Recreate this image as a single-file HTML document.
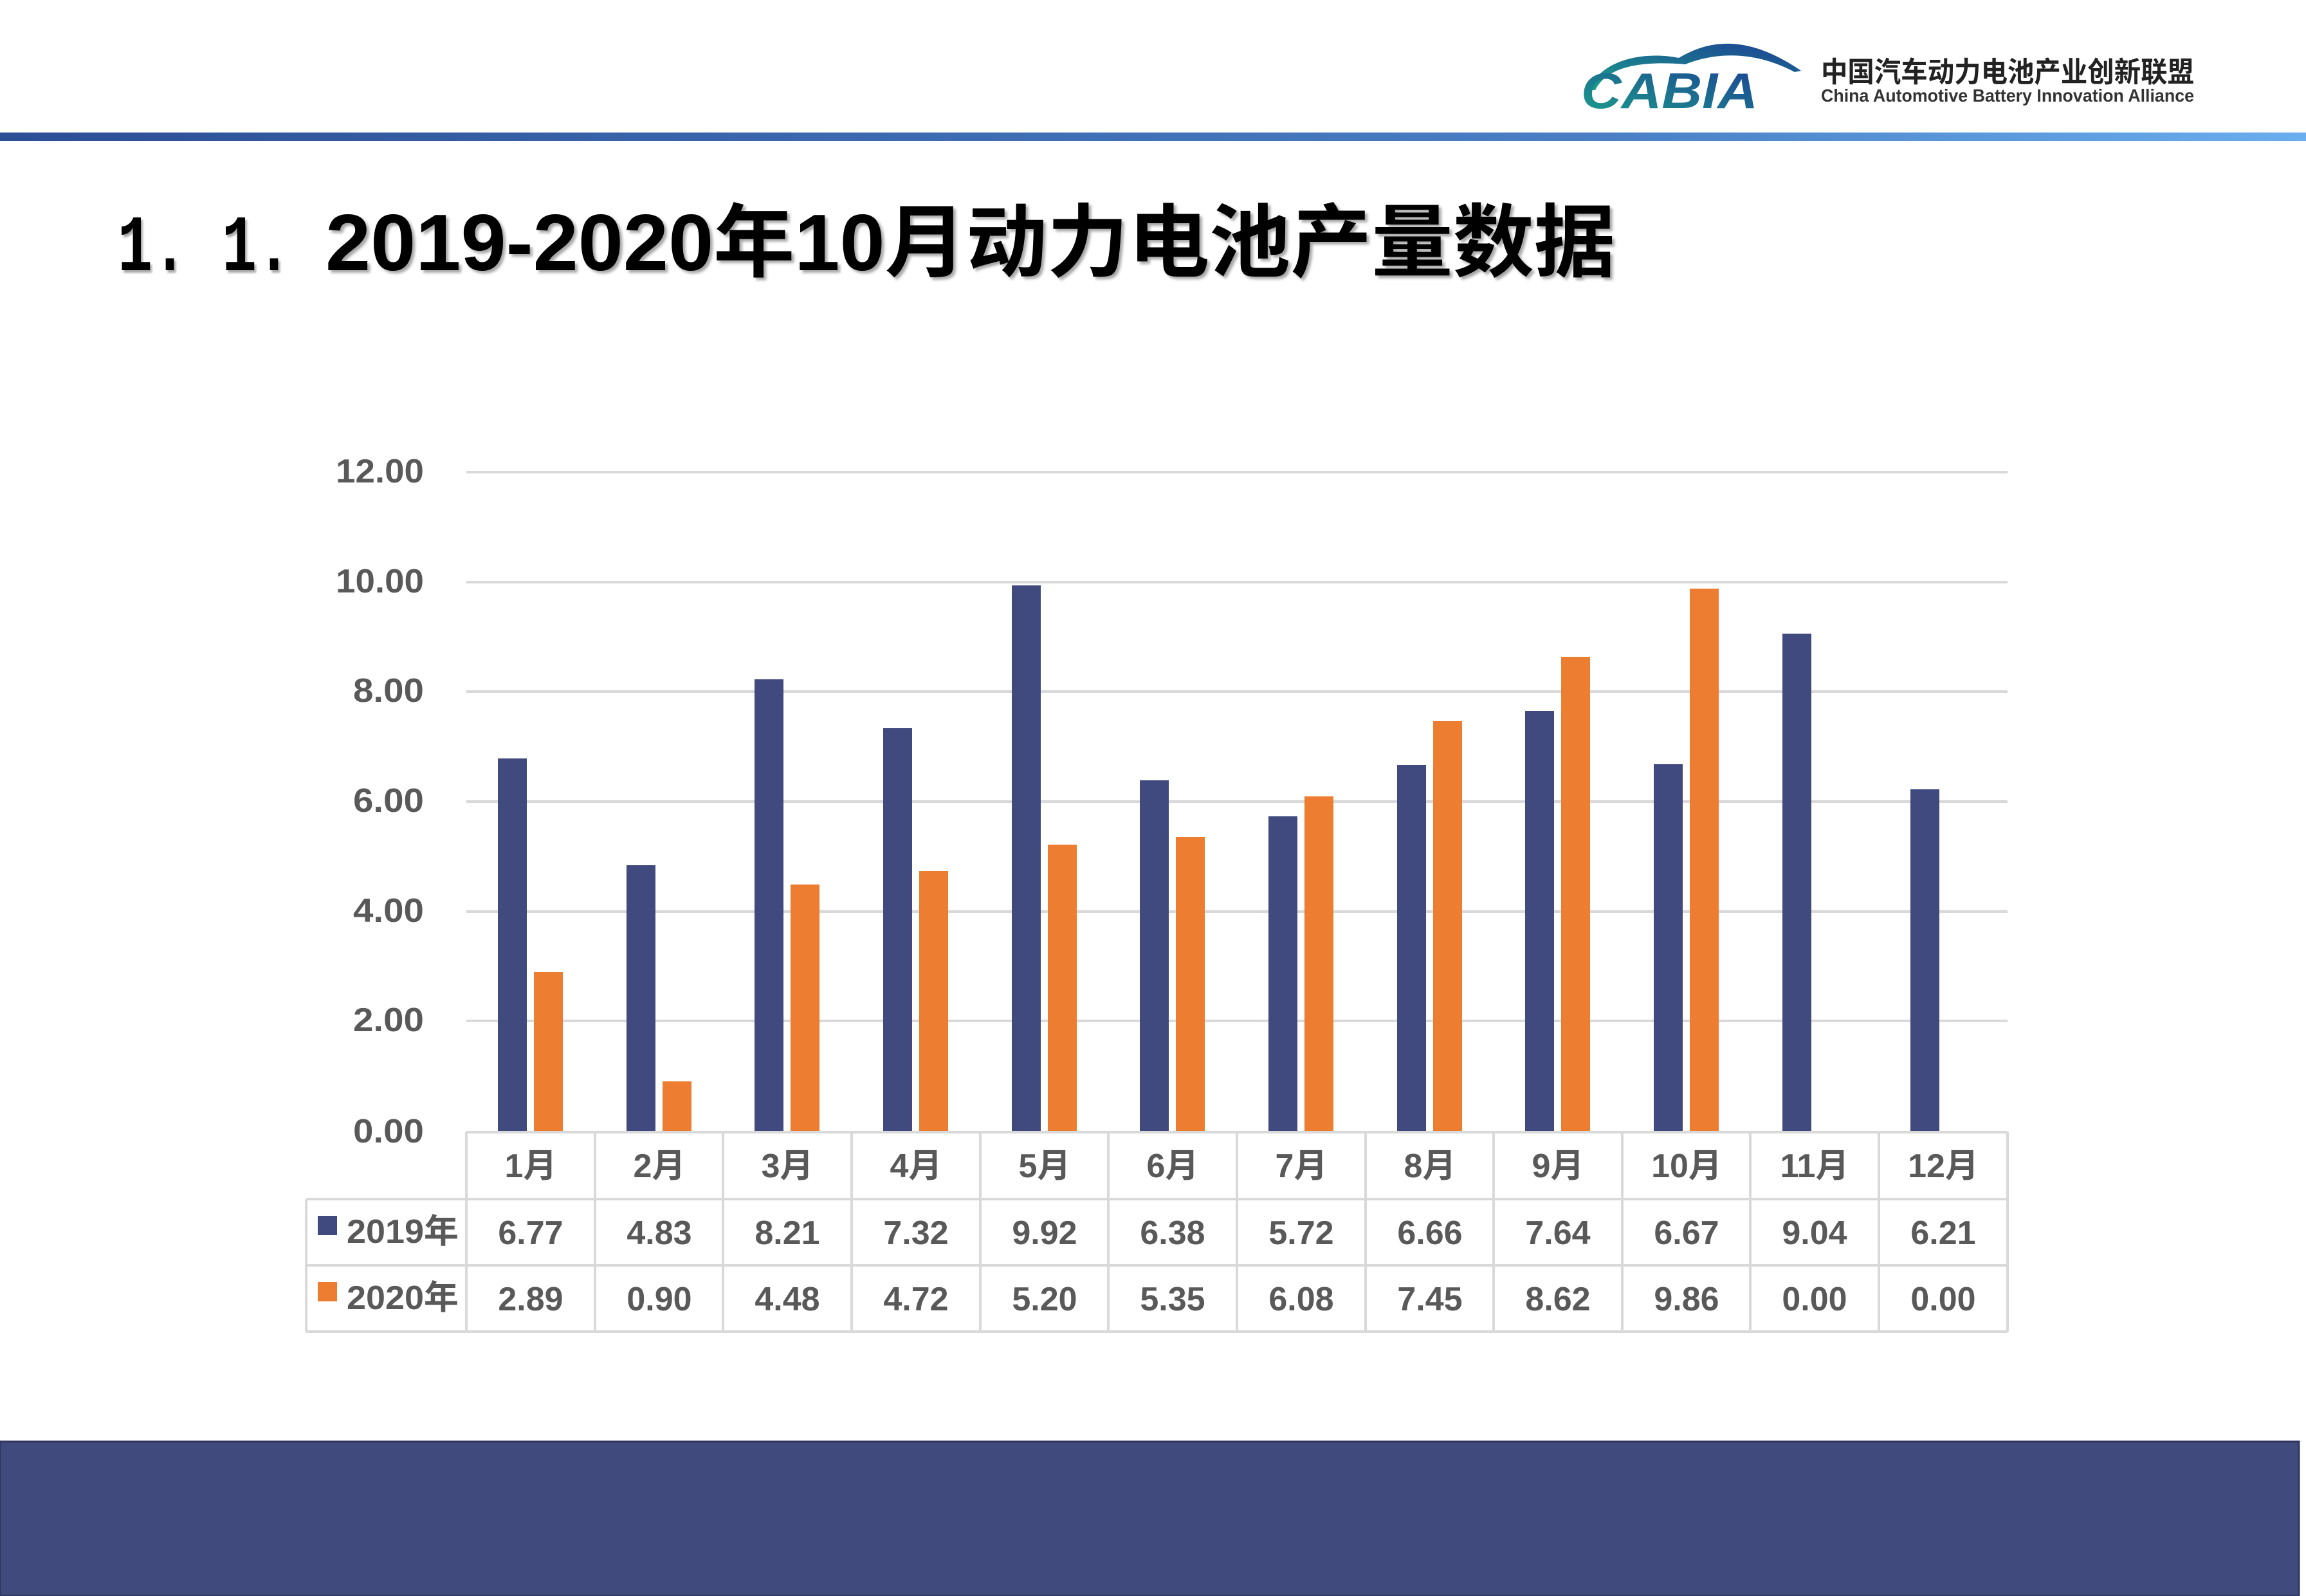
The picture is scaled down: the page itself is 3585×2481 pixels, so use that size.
<!DOCTYPE html>
<html><head><meta charset="utf-8"><style>
html,body{margin:0;padding:0;background:#fff;}
svg{display:block;}
</style></head><body>
<svg width="3585" height="2481" viewBox="0 0 3585 2481" xmlns="http://www.w3.org/2000/svg" font-family="'Liberation Sans','Noto Sans CJK SC',sans-serif">
<defs>
<linearGradient id="hb" x1="0" x2="1" y1="0" y2="0">
<stop offset="0" stop-color="#2c4f96"/><stop offset="0.7" stop-color="#4a7fc6"/><stop offset="1" stop-color="#6aaeee"/>
</linearGradient>
<linearGradient id="lg" x1="0" x2="1" y1="1" y2="0">
<stop offset="0" stop-color="#1aa08a"/><stop offset="1" stop-color="#1d3f95"/>
</linearGradient>
</defs>
<rect x="0" y="0" width="3585" height="2481" fill="#fff"/>
<!-- header line -->
<rect x="0" y="206" width="3585" height="13" fill="url(#hb)"/>
<!-- logo -->
<path d="M2470 140 C2490 90 2560 80 2610 90 C2660 60 2720 55 2800 110 L2790 112 C2730 80 2670 80 2620 100 C2560 95 2500 100 2480 140 Z" fill="url(#lg)"/>
<text x="2458" y="168" font-size="78" font-weight="bold" font-style="italic" fill="url(#lg)" textLength="275" lengthAdjust="spacingAndGlyphs">CABIA</text>
<text x="2831" y="127" font-size="44" font-weight="bold" fill="#222" textLength="580" lengthAdjust="spacingAndGlyphs">中国汽车动力电池产业创新联盟</text>
<text x="2831" y="158" font-size="28" font-weight="bold" fill="#333" textLength="580" lengthAdjust="spacingAndGlyphs">China Automotive Battery Innovation Alliance</text>
<!-- title -->
<g font-weight="bold" fill="#000" style="text-shadow:4px 4px 4px rgba(0,0,0,0.35)">
<text x="183" y="420" font-size="124" font-family="'Liberation Mono','Noto Sans CJK SC',monospace" textLength="270" lengthAdjust="spacingAndGlyphs">1. 1.</text>
<text x="506" y="420" font-size="124" font-family="'Liberation Sans','Noto Sans CJK SC',sans-serif" textLength="2005" lengthAdjust="spacingAndGlyphs">2019-2020年10月动力电池产量数据</text>
</g>
<!-- gridlines -->
<g stroke="#d9d9d9" stroke-width="4">
<line x1="725" x2="3121" y1="734" y2="734"/>
<line x1="725" x2="3121" y1="905" y2="905"/>
<line x1="725" x2="3121" y1="1075" y2="1075"/>
<line x1="725" x2="3121" y1="1246" y2="1246"/>
<line x1="725" x2="3121" y1="1417" y2="1417"/>
<line x1="725" x2="3121" y1="1587" y2="1587"/>
</g>
<g font-size="52" font-weight="bold" fill="#595959" text-anchor="end">
<text x="659" y="750" textLength="137" lengthAdjust="spacingAndGlyphs">12.00</text>
<text x="659" y="921" textLength="137" lengthAdjust="spacingAndGlyphs">10.00</text>
<text x="659" y="1091" textLength="110" lengthAdjust="spacingAndGlyphs">8.00</text>
<text x="659" y="1262" textLength="110" lengthAdjust="spacingAndGlyphs">6.00</text>
<text x="659" y="1433" textLength="110" lengthAdjust="spacingAndGlyphs">4.00</text>
<text x="659" y="1603" textLength="110" lengthAdjust="spacingAndGlyphs">2.00</text>
<text x="659" y="1776" textLength="110" lengthAdjust="spacingAndGlyphs">0.00</text>
</g>
<!-- bars -->
<g fill="#404a7e">
<rect x="774" y="1179" width="45" height="579"/>
<rect x="974" y="1345" width="45" height="413"/>
<rect x="1173" y="1056" width="45" height="702"/>
<rect x="1373" y="1132" width="45" height="626"/>
<rect x="1573" y="910" width="45" height="848"/>
<rect x="1772" y="1213" width="45" height="545"/>
<rect x="1972" y="1269" width="45" height="489"/>
<rect x="2172" y="1189" width="45" height="569"/>
<rect x="2371" y="1105" width="45" height="653"/>
<rect x="2571" y="1188" width="45" height="570"/>
<rect x="2771" y="985" width="45" height="773"/>
<rect x="2970" y="1227" width="45" height="531"/>
</g>
<g fill="#ed7d31">
<rect x="830" y="1511" width="45" height="247"/>
<rect x="1030" y="1681" width="45" height="77"/>
<rect x="1229" y="1375" width="45" height="383"/>
<rect x="1429" y="1354" width="45" height="404"/>
<rect x="1629" y="1313" width="45" height="445"/>
<rect x="1828" y="1301" width="45" height="457"/>
<rect x="2028" y="1238" width="45" height="520"/>
<rect x="2228" y="1121" width="45" height="637"/>
<rect x="2427" y="1021" width="45" height="737"/>
<rect x="2627" y="915" width="45" height="843"/>
</g>
<!-- table -->
<g stroke="#d9d9d9" stroke-width="4" fill="none">
<line x1="725" x2="3121" y1="1760" y2="1760"/>
<line x1="476" x2="3121" y1="1864" y2="1864"/>
<line x1="476" x2="3121" y1="1967" y2="1967"/>
<line x1="476" x2="3121" y1="2070" y2="2070"/>
<line x1="476" x2="476" y1="1864" y2="2070"/>
<line x1="725" x2="725" y1="1760" y2="2070"/>
<line x1="925" x2="925" y1="1760" y2="2070"/>
<line x1="1124" x2="1124" y1="1760" y2="2070"/>
<line x1="1324" x2="1324" y1="1760" y2="2070"/>
<line x1="1524" x2="1524" y1="1760" y2="2070"/>
<line x1="1723" x2="1723" y1="1760" y2="2070"/>
<line x1="1923" x2="1923" y1="1760" y2="2070"/>
<line x1="2123" x2="2123" y1="1760" y2="2070"/>
<line x1="2322" x2="2322" y1="1760" y2="2070"/>
<line x1="2522" x2="2522" y1="1760" y2="2070"/>
<line x1="2721" x2="2721" y1="1760" y2="2070"/>
<line x1="2921" x2="2921" y1="1760" y2="2070"/>
<line x1="3121" x2="3121" y1="1760" y2="2070"/>
</g>
<rect x="494" y="1890" width="30" height="30" fill="#404a7e"/>
<rect x="494" y="1993" width="30" height="30" fill="#ed7d31"/>
<g font-size="52" font-weight="bold" fill="#595959">
<text x="539" y="1932" textLength="174" lengthAdjust="spacingAndGlyphs">2019年</text>
<text x="539" y="2035" textLength="174" lengthAdjust="spacingAndGlyphs">2020年</text>
</g>
<g font-size="52" font-weight="bold" fill="#595959" text-anchor="middle">
<text x="825" y="1830">1月</text><text x="1025" y="1830">2月</text><text x="1224" y="1830">3月</text><text x="1424" y="1830">4月</text><text x="1624" y="1830">5月</text><text x="1823" y="1830">6月</text><text x="2023" y="1830">7月</text><text x="2223" y="1830">8月</text><text x="2422" y="1830">9月</text><text x="2622" y="1830">10月</text><text x="2821" y="1830">11月</text><text x="3021" y="1830">12月</text>
<text x="825" y="1934">6.77</text><text x="1025" y="1934">4.83</text><text x="1224" y="1934">8.21</text><text x="1424" y="1934">7.32</text><text x="1624" y="1934">9.92</text><text x="1823" y="1934">6.38</text><text x="2023" y="1934">5.72</text><text x="2223" y="1934">6.66</text><text x="2422" y="1934">7.64</text><text x="2622" y="1934">6.67</text><text x="2821" y="1934">9.04</text><text x="3021" y="1934">6.21</text>
<text x="825" y="2037">2.89</text><text x="1025" y="2037">0.90</text><text x="1224" y="2037">4.48</text><text x="1424" y="2037">4.72</text><text x="1624" y="2037">5.20</text><text x="1823" y="2037">5.35</text><text x="2023" y="2037">6.08</text><text x="2223" y="2037">7.45</text><text x="2422" y="2037">8.62</text><text x="2622" y="2037">9.86</text><text x="2821" y="2037">0.00</text><text x="3021" y="2037">0.00</text>
</g>
<!-- footer -->
<rect x="0" y="2241" width="3574" height="240" fill="#404a7c" stroke="#2e3660" stroke-width="3"/>
</svg>
</body></html>
